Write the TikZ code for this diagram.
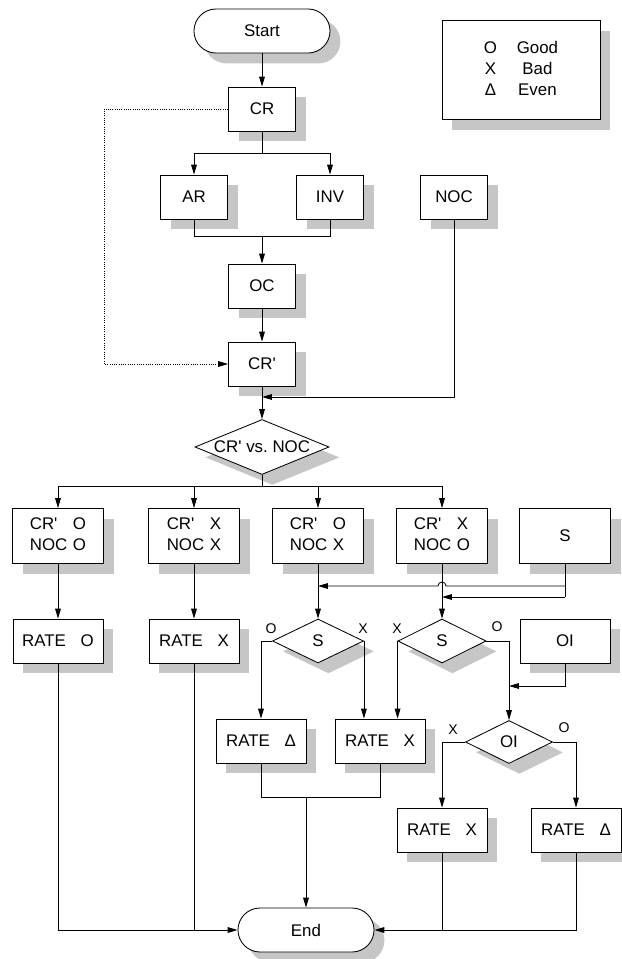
\documentclass[tikz,border=0pt]{standalone}
\usepackage{fontspec}
\setmainfont{Liberation Sans}
\usetikzlibrary{arrows.meta,positioning,shapes.geometric,shadows}

\newcommand\pr{\textquotesingle}
\newcommand\pair[2]{\begin{tabular}{@{}l@{\hspace{4pt}}l@{}}CR\pr&#1\\NOC&#2\end{tabular}}
\newcommand\rate[1]{RATE\hspace{10.5pt}#1}

\begin{document}
\begin{tikzpicture}[x=0.025cm, y=-0.025cm, >={Triangle[length=7pt,width=4pt]},
  font=\fontsize{12}{15}\selectfont, line width=0.6pt,
  shd/.style={drop shadow={shadow xshift=0.26cm, shadow yshift=-0.26cm, fill=gray!45, opacity=1}},
  box/.style={draw, fill=white, shd, minimum width=1.675cm, minimum height=1.1cm, inner sep=1pt},
  pbox/.style={box, minimum width=2.275cm, minimum height=1.375cm},
  rbox/.style={box, minimum width=2.25cm, minimum height=1.1cm},
  term/.style={draw, fill=white, shd, rounded corners=0.55cm, minimum width=3.4cm, minimum height=1.1cm},
  dec/.style={diamond, draw, fill=white, shd, inner sep=0pt},
  lbl/.style={font=\fontsize{10}{12}\selectfont, inner sep=1pt}]
\useasboundingbox (0,0) rectangle (622,959);
% top part
\node[term] (start) at (262,31) {Start};
\node[box] (cr) at (262,109) {CR};
\node[box] (ar) at (194,197) {AR};
\node[box] (inv) at (330,197) {INV};
\node[box] (noc) at (454,197) {NOC};
\node[box] (oc) at (262,286) {OC};
\node[box] (crp) at (262,364) {CR\pr};
\node[dec, minimum width=3.35cm, minimum height=1.375cm] (vs) at (262,447) {\makebox[0pt]{CR\pr{} vs.\ NOC}};
\node[draw, fill=white, shd, minimum width=3.95cm, minimum height=2.475cm] (key) at (521,70)
  {\begin{tabular}{@{}c@{\hspace{14pt}}c@{}}O&Good\\X&Bad\\Δ&Even\end{tabular}};
% comparison results
\node[pbox] (oo) at (58,536) {\pair{O}{O}};
\node[pbox] (xx) at (194,536) {\pair{X}{X}};
\node[pbox] (ox) at (318,536) {\pair{O}{X}};
\node[pbox] (xo) at (442,536) {\pair{X}{O}};
\node[pbox] (s) at (565,536) {S};
% third row
\node[rbox] (rgood) at (58,641) {\rate{O}};
\node[rbox] (rbad) at (194,641) {\rate{X}};
\node[dec, minimum width=2.275cm, minimum height=1.1cm] (sa) at (318,641) {S};
\node[dec, minimum width=2.2cm, minimum height=1.1cm] (sb) at (442,641) {S};
\node[rbox] (oi) at (565,641) {OI};
% fourth row
\node[rbox] (reven) at (261,741) {\rate{Δ}};
\node[rbox] (rbadb) at (380,741) {\rate{X}};
\node[dec, minimum width=2.175cm, minimum height=1.075cm] (oid) at (509,742) {OI};
\node[rbox] (rbadc) at (442,830) {\rate{X}};
\node[rbox] (revenb) at (576,830) {\rate{Δ}};
\node[term] (end) at (306,930) {End};
% branch labels
\node[lbl] (la) at (271,629) {O};
\node[lbl] (lb) at (363,629) {X};
\node[lbl] (lc) at (397,629) {X};
\node[lbl] (ld) at (497,627) {O};
\node[lbl] (le) at (453,730) {X};
\node[lbl] (lf) at (564,728) {O};
% junctions
\coordinate (b1) at (262,153);
\coordinate (m1) at (262,236);
\coordinate (j1) at (262,397);
\coordinate (dl) at (104,0);
\coordinate (b2) at (262,486);
\coordinate (sj1) at (565,586);
\coordinate (sj2) at (565,597);
\coordinate (hop) at (446,586);
\coordinate (sj3) at (318,586);
\coordinate (sj4) at (442,597);
\coordinate (oj) at (509,686);
\coordinate (m2) at (306,797);
% main flow
\draw[->] (start) -- (cr);
\draw (cr) -- (b1);
\draw[->] (b1) -| (ar);
\draw[->] (b1) -| (inv);
\draw (ar) |- (m1);
\draw (inv) |- (m1);
\draw[->] (m1) -- (oc);
\draw[->] (oc) -- (crp);
\draw[->, densely dotted] (cr.west) -- (cr.west -| dl) |- (crp.west);
\draw[->] (noc) |- (j1);
\draw[->] (crp) -- (vs);
\draw (vs) -- (b2);
\foreach \n in {oo,xx,ox,xo}
  \draw[->] (b2) -| (\n);
\draw[->] (oo) -- (rgood);
\draw[->] (xx) -- (rbad);
\draw[->] (ox) -- (sa);
\draw[->] (xo) -- (sb);
% S feeds both decisions
\draw (s) -- (sj2);
\draw[->] (sj1) -- (hop) arc[start angle=0, end angle=180, radius=0.1cm] -- (sj3);
\draw[->] (sj2) -- (sj4);
% decisions
\draw[->] (sa.west) -| (reven);
\draw[->] (sa.east) -- (sa.east |- rbadb.north);
\draw[->] (sb.west) -- (sb.west |- rbadb.north);
\draw[->] (sb.east) -| (oid);
\draw[->] (oi) |- (oj);
\draw[->] (oid.west) -| (rbadc);
\draw[->] (oid.east) -| (revenb);
% to end
\draw (reven) |- (m2) -| (rbadb);
\draw[->] (m2) -- (end);
\draw[->] (rgood) |- (end.west);
\draw (rbad) -- (rbad |- end.west);
\draw[->] (revenb) |- (end.east);
\draw (rbadc) -- (rbadc |- end.east);
\end{tikzpicture}
\end{document}
